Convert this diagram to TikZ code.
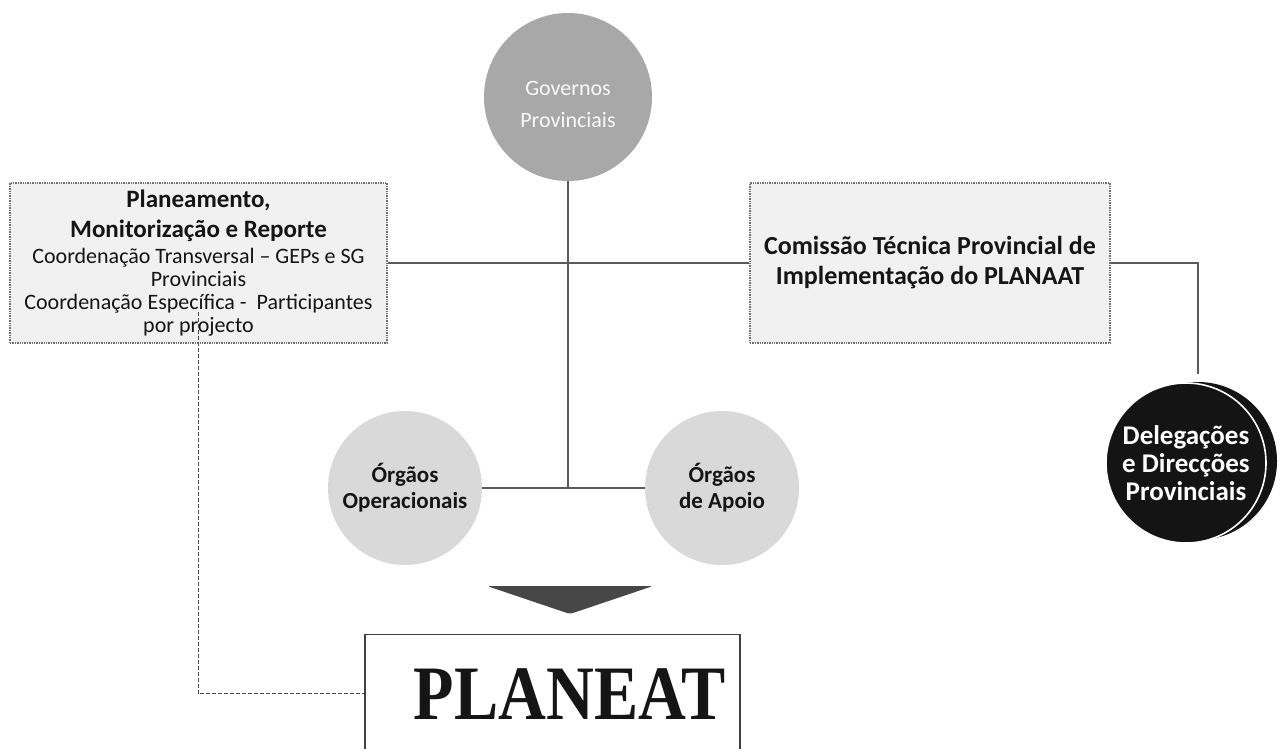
\documentclass[tikz,border=0pt]{standalone}
\usepackage{graphicx}
\usepackage{fontspec}
\setmainfont{Carlito}
\newfontfamily\planfont{Liberation Serif}
\definecolor{lncol}{HTML}{5A5A5A}
\definecolor{boxcol}{HTML}{6E6E6E}
\definecolor{boxfill}{HTML}{F1F1F1}
\definecolor{govfill}{HTML}{A8A8A8}
\definecolor{orgfill}{HTML}{D9D9D9}
\definecolor{txt}{HTML}{151515}
\begin{document}
\begin{tikzpicture}[x=1pt,y=-1pt,
  ln/.style={draw=lncol, line width=1.2pt},
  dsh/.style={draw=black!70, line width=0.9pt, dash pattern=on 3.5pt off 2.5pt},
  dbox/.style={draw=boxcol, densely dotted, line width=1.4pt, fill=boxfill, minimum height=160, align=center, inner sep=0pt, text=txt},
  gcirc/.style={circle, fill=govfill, minimum size=168, inner sep=0pt, align=center, text=white!95!gray, font=\fontsize{22}{32}\selectfont},
  ocirc/.style={circle, fill=orgfill, minimum size=154, inner sep=0pt, align=center, text=txt, font=\bfseries\fontsize{23}{26}\selectfont},
  bcirc/.style={circle, fill=black!92, minimum size=158, inner sep=0pt},
  fcirc/.style={circle, fill=black!92, draw=white, line width=1.6pt, minimum size=160, inner sep=0pt, align=center, text=white, font=\bfseries\fontsize{27}{28}\selectfont},
  pbox/.style={draw=black!75, line width=1.3pt, fill=white, minimum width=375, minimum height=118, anchor=north, inner sep=0pt, text=txt, font=\planfont\bfseries\fontsize{77}{77}\selectfont}
]
\clip (0,0) rectangle (1284,749);
\fill[white] (0,0) rectangle (1284,749);

% nodes
\node[gcirc] (gov) at (568,97) {\rule{0pt}{30pt}Governos\\Provinciais};
\node[dbox, minimum width=377, font=\fontsize{22}{23}\selectfont] (pmr) at (198.5,263) {%
  {\bfseries\fontsize{25}{30}\selectfont Planeamento,}\\[7pt]
  {\bfseries\fontsize{25}{30}\selectfont Monitorização e Reporte}\\[3pt]
  Coordenação Transversal -- GEPs e SG\\
  Provinciais\\
  Coordenação Específica -\ \ Participantes\\
  por projecto};
\node[dbox, minimum width=360, font=\bfseries\fontsize{26}{30}\selectfont] (ctp) at (930,263) {Comissão Técnica Provincial de\\Implementação do PLANAAT};
\node[ocirc] (op) at (405,488) {Órgãos\\Operacionais};
\node[ocirc] (ap) at (722,488) {Órgãos\\de Apoio};
\node[bcirc] (delb) at (1198,461) {};
\node[fcirc] (del) at (1186,463) {Delegações\\e Direcções\\Provinciais};
\node[pbox] (plan) at (552.5,634) {\hspace*{34pt}\scalebox{0.86}[1]{PLANEAT}};

% down arrow
\fill[black!72, rounded corners=3pt] (487,586) -- (653,586) -- (570,614) -- cycle;

% connectors
\coordinate (jt) at (gov.south |- op.east);
\draw[ln] (pmr.east) -- (ctp.west);
\draw[ln] (gov.south) -- (jt);
\draw[ln] (op.east) -- (ap.west);
\draw[ln, shorten >=8pt] (ctp.east) -- (delb.north |- ctp.east) -- (delb.north);
\coordinate (ds) at (198,312);
\draw[dsh] (ds) -- (ds |- plan.west) -- (plan.west);
\end{tikzpicture}
\end{document}
